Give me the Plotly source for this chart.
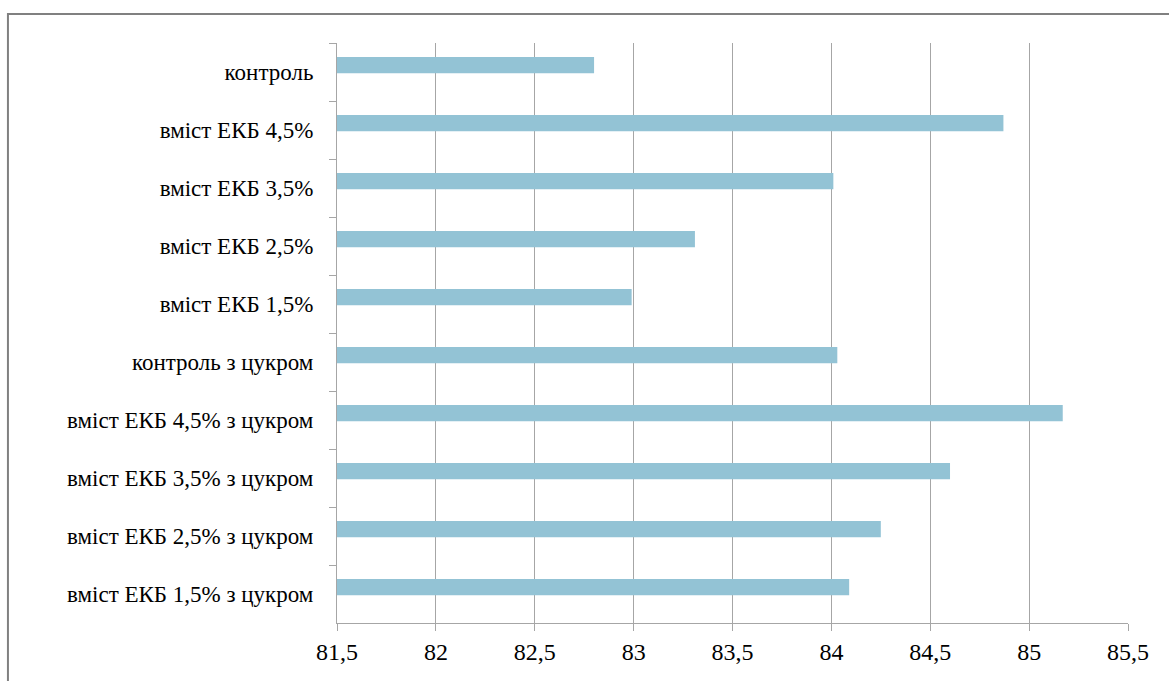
import plotly.graph_objects as go

# Samples, listed top to bottom
samples = [
    "контроль",
    "вміст ЕКБ 4,5%",
    "вміст ЕКБ 3,5%",
    "вміст ЕКБ 2,5%",
    "вміст ЕКБ 1,5%",
    "контроль з цукром",
    "вміст ЕКБ 4,5% з цукром",
    "вміст ЕКБ 3,5% з цукром",
    "вміст ЕКБ 2,5% з цукром",
    "вміст ЕКБ 1,5% з цукром",
]
values = [82.80, 84.87, 84.01, 83.31, 82.99, 84.03, 85.17, 84.60, 84.25, 84.09]

AXIS_MIN = 81.5
x_ticks = [81.5, 82, 82.5, 83, 83.5, 84, 84.5, 85, 85.5]
x_tick_text = ["81,5", "82", "82,5", "83", "83,5", "84", "84,5", "85", "85,5"]

BAR_COLOR = "#93C3D5"
GRID = "#A6A6A6"
FONT = "'Times New Roman', 'Liberation Serif', 'DejaVu Serif', serif"

fig = go.Figure(
    go.Bar(
        x=[v - AXIS_MIN for v in values],
        y=samples,
        base=AXIS_MIN,
        orientation="h",
        marker=dict(color=BAR_COLOR, line=dict(width=0)),
        width=0.28,
        offset=-0.26,
    )
)

fig.update_layout(
    width=1169,
    height=681,
    margin=dict(l=337, r=41, t=43, b=58),
    paper_bgcolor="white",
    plot_bgcolor="white",
    showlegend=False,
    font=dict(family=FONT, color="black"),
)

fig.update_xaxes(
    range=[81.5, 85.5],
    tickvals=x_ticks,
    ticktext=x_tick_text,
    showgrid=True,
    gridcolor=GRID,
    gridwidth=1,
    zeroline=False,
    showline=True,
    linecolor=GRID,
    linewidth=1,
    ticks="outside",
    ticklen=7,
    tickcolor=GRID,
    tickfont=dict(size=24, family=FONT, color="black"),
)

fig.update_yaxes(
    type="category",
    categoryorder="array",
    categoryarray=samples,
    autorange="reversed",
    tickson="boundaries",
    showgrid=False,
    showline=True,
    linecolor=GRID,
    linewidth=1,
    ticks="outside",
    ticklen=7,
    tickcolor=GRID,
    ticklabelstandoff=18,
    tickfont=dict(size=23, family=FONT, color="black"),
)

# outer frame around the chart
fig.add_shape(
    type="rect",
    xref="paper",
    yref="paper",
    x0=-0.416,
    x1=1.07,
    y0=-0.13,
    y1=1.05,
    line=dict(color="#808080", width=2),
    fillcolor="rgba(0,0,0,0)",
    layer="below",
)

fig.write_html("out.html")
